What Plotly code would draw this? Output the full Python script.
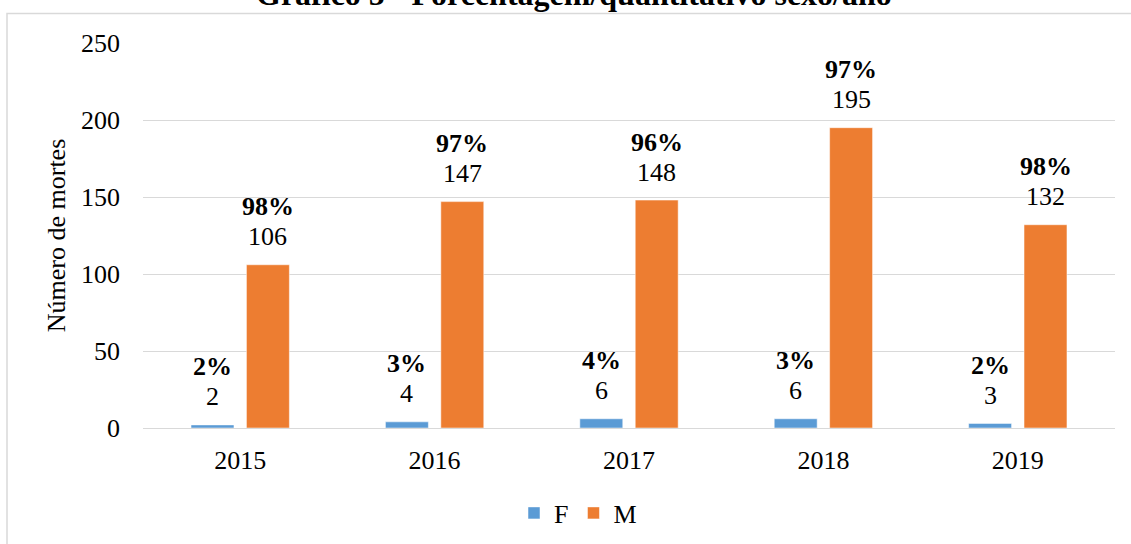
import plotly.graph_objects as go

anos = ["2015", "2016", "2017", "2018", "2019"]
f_vals = [2, 4, 6, 6, 3]
m_vals = [106, 147, 148, 195, 132]
f_pct = ["2%", "3%", "4%", "3%", "2%"]
m_pct = ["98%", "97%", "96%", "97%", "98%"]
y_ticks = [0, 50, 100, 150, 200, 250]

FONT = "Liberation Serif, Times New Roman, serif"
F_COLOR = "#5B9BD5"
M_COLOR = "#ED7D31"
FS = 26
BARGAP = 0.43
SLOT = (1 - BARGAP) / 2  # width of each trace slot in category units

fig = go.Figure()
fig.add_trace(go.Bar(x=anos, y=f_vals, name="F", marker=dict(color=F_COLOR, line=dict(color="white", width=0.5)), offsetgroup="F"))
fig.add_trace(go.Bar(x=anos, y=m_vals, name="M", marker=dict(color=M_COLOR, line=dict(color="white", width=0.5)), offsetgroup="M"))

annotations = []
for i, a in enumerate(anos):
    for vals, pcts, xs in ((f_vals, f_pct, -SLOT / 2), (m_vals, m_pct, SLOT / 2)):
        annotations.append(dict(x=i + xs, y=vals[i], xref="x", yref="y", text=str(vals[i]),
                                showarrow=False, xanchor="center", yanchor="middle", yshift=28,
                                font=dict(family=FONT, size=FS, color="#000")))
        annotations.append(dict(x=i + xs, y=vals[i], xref="x", yref="y", text="<b>" + pcts[i] + "</b>",
                                showarrow=False, xanchor="center", yanchor="middle", yshift=58,
                                font=dict(family=FONT, size=FS, color="#000")))

annotations.append(dict(x=(574 - 143) / 972, y=(428 - 14) / 385, xref="paper", yref="paper",
                        text="<b>Gráfico 5 - Porcentagem/quantitativo sexo/ano</b>",
                        showarrow=False, yanchor="bottom", xanchor="center",
                        font=dict(family=FONT, size=32, color="#000")))

fig.update_layout(
    width=1131, height=544,
    margin=dict(l=143, r=16, t=43, b=116, autoexpand=False),
    paper_bgcolor="white", plot_bgcolor="white",
    barmode="group", bargap=BARGAP, bargroupgap=0.225,
    font=dict(family=FONT, size=FS, color="#000"),
    showlegend=True,
    legend=dict(orientation="h", x=(578 - 143) / 972, xanchor="center", y=(428 - 513) / 385, yanchor="middle",
                font=dict(family=FONT, size=FS, color="#000"), itemwidth=30,
                tracegroupgap=0),
    annotations=annotations,
    shapes=[dict(type="rect", xref="paper", yref="paper",
                 x0=(7 - 143) / 972, x1=(1200 - 143) / 972,
                 y0=(428 - 600) / 385, y1=(428 - 13.5) / 385,
                 line=dict(color="#d9d9d9", width=1.5), fillcolor="rgba(0,0,0,0)", layer="below")],
)
fig.update_xaxes(type="category", showgrid=False, showline=False, ticks="",
                 ticklabelstandoff=14,
                 tickfont=dict(family=FONT, size=FS, color="#000"))
fig.update_yaxes(range=[0, 250], tickvals=y_ticks, showgrid=True, gridcolor="#d9d9d9", gridwidth=1,
                 zeroline=True, zerolinecolor="#d9d9d9", zerolinewidth=1, showline=False, ticks="",
                 ticklabelstandoff=22,
                 tickfont=dict(family=FONT, size=FS, color="#000"),
                 title=dict(text="Número de mortes", standoff=7, font=dict(family=FONT, size=FS, color="#000")))

fig.write_html("out.html", config={"displayModeBar": False},
               post_script="document.body.style.margin='0px';")
